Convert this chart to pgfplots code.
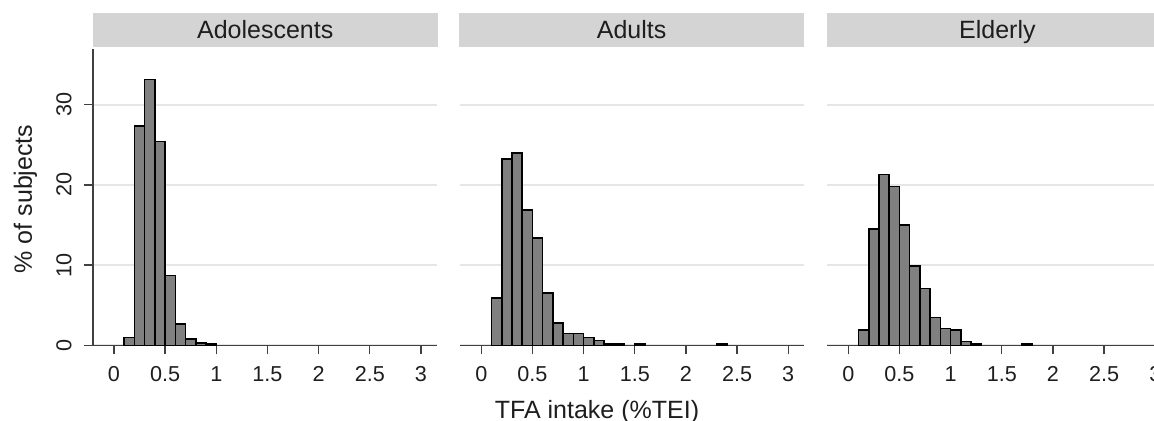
\documentclass[border=0pt]{standalone}
\usepackage{fontspec}
\setmainfont{Liberation Sans}
\usepackage{pgfplots}
\pgfplotsset{compat=1.18}
\definecolor{strip}{HTML}{D4D4D4}
\definecolor{gridc}{HTML}{E6E6E6}
\definecolor{barc}{HTML}{808080}
\definecolor{txt}{HTML}{1E1E1E}
\pgfplotsset{panel/.style={
  scale only axis, width=172pt, height=148.25pt,
  xmin=-0.205, xmax=3.157, ymin=0, ymax=36.92,
  axis x line*=bottom, axis y line*=left,
  axis line style={-, line width=0.8pt, color=black!75},
  xtick={0,0.5,1,1.5,2,2.5,3},
  ytick={0,10,20,30},
  tick align=outside, major tick length=4.5pt,
  tick style={line width=0.7pt, color=black!75},
  ymajorgrids, major grid style={line width=1pt, color=gridc},
  ticklabel style={font=\fontsize{10.8}{12}\selectfont, text=txt},
  /pgf/number format/assume math mode=true,
  xticklabel style={anchor=north, inner sep=0pt},
  yticklabel style={rotate=90, anchor=south, inner sep=0pt},
  xticklabel shift=6pt, yticklabel shift=6pt,
  clip=false,
}, hbar/.style={ybar, bar width=0.1, bar shift=0pt, fill=barc, draw=black, line width=0.8pt},
  noy/.style={y axis line style={draw=none}, ytick style={draw=none}, yticklabels={}}}
\begin{document}
\begin{tikzpicture}
% strips
\fill[strip] (46.5pt,-6.5pt) rectangle (218.75pt,-23.5pt);
\fill[strip] (229.65pt,-6.5pt) rectangle (402pt,-23.5pt);
\fill[strip] (413.25pt,-6.5pt) rectangle (590pt,-23.5pt);
\node[anchor=base, font=\fontsize{12.5}{14}\selectfont, text=txt] at (132.6pt,-19.15pt) {Adolescents};
\node[anchor=base, font=\fontsize{12.5}{14}\selectfont, text=txt] at (315.8pt,-19.15pt) {Adults};
\node[anchor=base, font=\fontsize{12.5}{14}\selectfont, text=txt] at (498.7pt,-19.15pt) {Elderly};
\node[anchor=base, rotate=90, font=\fontsize{12.5}{14}\selectfont, text=txt] at (16pt,-99.5pt) {\% of subjects};
\node[anchor=base, font=\fontsize{12.5}{14}\selectfont, text=txt] at (298.5pt,-209pt) {TFA intake (\%TEI)};

\begin{axis}[panel, at={(46.5pt,-172.75pt)}, anchor=south west]
\addplot[hbar] coordinates {(0.15,1.0) (0.25,27.3) (0.35,33.1) (0.45,25.4) (0.55,8.7) (0.65,2.7) (0.75,0.8) (0.85,0.3) (0.95,0.15)};
\end{axis}

\begin{axis}[panel, noy, at={(230.15pt,-172.75pt)}, anchor=south west]
\addplot[hbar] coordinates {(0.15,5.9) (0.25,23.2) (0.35,24.0) (0.45,16.9) (0.55,13.4) (0.65,6.5) (0.75,2.8) (0.85,1.5) (0.95,1.5) (1.05,1.0) (1.15,0.6) (1.25,0.15) (1.35,0.15) (1.55,0.2) (2.35,0.2)};
\end{axis}

\begin{axis}[panel, noy, at={(413.65pt,-172.75pt)}, anchor=south west]
\addplot[hbar] coordinates {(0.15,1.9) (0.25,14.5) (0.35,21.3) (0.45,19.8) (0.55,15.0) (0.65,9.9) (0.75,7.1) (0.85,3.5) (0.95,2.1) (1.05,1.9) (1.15,0.5) (1.25,0.15) (1.75,0.2)};
\end{axis}

\pgfresetboundingbox
\useasboundingbox (0,0) rectangle (577pt,-210.5pt);
\end{tikzpicture}
\end{document}
